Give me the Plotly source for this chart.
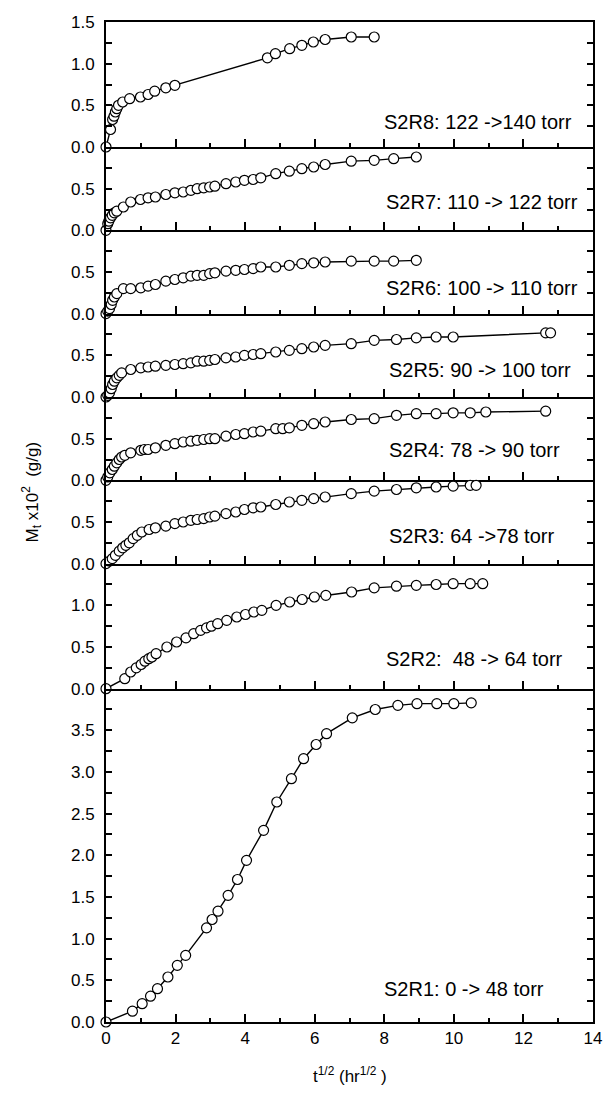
import plotly.graph_objects as go
from plotly.subplots import make_subplots

# Uptake curves, one panel per pressure step (top panel = last step)
labels = [
    "S2R8: 122 ->140 torr",
    "S2R7: 110 -> 122 torr",
    "S2R6: 100 -> 110 torr",
    "S2R5: 90 -> 100 torr",
    "S2R4: 78 -> 90 torr",
    "S2R3: 64 ->78 torr",
    "S2R2:\u00a0 48 -> 64 torr",
    "S2R1: 0 -> 48 torr",
]

# y-axis upper limits of each panel (M_t x10^2, g/g)
y_tops = [1.5, 1.0, 1.0, 1.0, 1.0, 1.0, 1.5, 4.0]

s2r8_x = [0, 0.13, 0.19, 0.23, 0.27, 0.31, 0.36, 0.48, 0.68, 0.99, 1.21, 1.40, 1.72, 1.98,
          4.64, 4.87, 5.28, 5.63, 5.96, 6.30, 7.05, 7.71]
s2r8_y = [0, 0.21, 0.33, 0.37, 0.42, 0.46, 0.50, 0.54, 0.58, 0.60, 0.63, 0.67, 0.71, 0.74,
          1.07, 1.12, 1.18, 1.22, 1.26, 1.29, 1.32, 1.32]

s2r7_x = [0, 0.05, 0.08, 0.13, 0.18, 0.24, 0.31, 0.50, 0.71, 0.99, 1.21, 1.42, 1.72, 1.98,
          2.22, 2.44, 2.62, 2.81, 2.98, 3.13, 3.45, 3.73, 3.98, 4.23, 4.45, 4.88, 5.27, 5.63,
          5.97, 6.30, 7.05, 7.71, 8.27, 8.92]
s2r7_y = [0, 0.08, 0.11, 0.15, 0.18, 0.21, 0.23, 0.28, 0.34, 0.37, 0.39, 0.40, 0.43, 0.45,
          0.46, 0.48, 0.50, 0.51, 0.52, 0.53, 0.56, 0.58, 0.60, 0.61, 0.63, 0.68, 0.71, 0.74,
          0.76, 0.79, 0.83, 0.84, 0.86, 0.88]

s2r6_x = [0, 0.05, 0.10, 0.15, 0.19, 0.24, 0.31, 0.50, 0.71, 1.00, 1.21, 1.42, 1.72, 1.98,
          2.22, 2.44, 2.62, 2.81, 2.98, 3.13, 3.45, 3.73, 3.98, 4.23, 4.45, 4.88, 5.27, 5.63,
          5.97, 6.30, 7.05, 7.71, 8.27, 8.92]
s2r6_y = [0, 0.03, 0.06, 0.11, 0.16, 0.20, 0.24, 0.30, 0.30, 0.31, 0.33, 0.35, 0.39, 0.41,
          0.43, 0.45, 0.46, 0.46, 0.48, 0.49, 0.51, 0.52, 0.53, 0.54, 0.56, 0.56, 0.58, 0.60,
          0.61, 0.62, 0.63, 0.63, 0.63, 0.64]

s2r5_x = [0, 0.05, 0.10, 0.15, 0.19, 0.24, 0.31, 0.38, 0.45, 0.71, 1.00, 1.21, 1.42, 1.72,
          1.98, 2.22, 2.44, 2.62, 2.81, 2.98, 3.13, 3.45, 3.73, 3.98, 4.23, 4.45, 4.88, 5.27,
          5.63, 5.97, 6.30, 7.05, 7.71, 8.35, 8.92, 9.49, 9.98, 12.64, 12.78]
s2r5_y = [0, 0.02, 0.05, 0.10, 0.15, 0.19, 0.23, 0.26, 0.29, 0.33, 0.35, 0.36, 0.37, 0.38,
          0.39, 0.40, 0.41, 0.43, 0.43, 0.44, 0.45, 0.47, 0.48, 0.50, 0.51, 0.52, 0.54, 0.56,
          0.58, 0.60, 0.62, 0.64, 0.68, 0.69, 0.71, 0.72, 0.72, 0.77, 0.77]

s2r4_x = [0, 0.05, 0.11, 0.18, 0.24, 0.31, 0.38, 0.45, 0.54, 0.71, 1.00, 1.10, 1.21, 1.42,
          1.72, 1.98, 2.22, 2.44, 2.62, 2.81, 2.98, 3.13, 3.45, 3.73, 3.98, 4.23, 4.45, 4.88,
          5.08, 5.27, 5.63, 5.97, 6.30, 7.05, 7.71, 8.35, 8.92, 9.49, 9.98, 10.47, 10.92, 12.64]
s2r4_y = [0, 0.04, 0.09, 0.13, 0.17, 0.21, 0.25, 0.28, 0.30, 0.33, 0.36, 0.37, 0.37, 0.39,
          0.42, 0.44, 0.46, 0.47, 0.48, 0.49, 0.50, 0.50, 0.53, 0.55, 0.56, 0.58, 0.59, 0.62,
          0.62, 0.63, 0.66, 0.68, 0.70, 0.73, 0.74, 0.78, 0.80, 0.80, 0.81, 0.81, 0.82, 0.83]

s2r3_x = [0, 0.10, 0.18, 0.27, 0.38, 0.48, 0.57, 0.67, 0.78, 0.90, 1.03, 1.24, 1.42, 1.72,
          1.98, 2.22, 2.44, 2.62, 2.81, 2.98, 3.13, 3.45, 3.73, 3.98, 4.23, 4.45, 4.88, 5.27,
          5.63, 5.97, 6.30, 7.05, 7.71, 8.35, 8.92, 9.49, 9.98, 10.47, 10.64]
s2r3_y = [0, 0.03, 0.06, 0.10, 0.15, 0.19, 0.22, 0.25, 0.30, 0.34, 0.38, 0.41, 0.43, 0.45,
          0.48, 0.50, 0.52, 0.53, 0.54, 0.56, 0.57, 0.60, 0.62, 0.65, 0.67, 0.68, 0.71, 0.74,
          0.76, 0.78, 0.80, 0.84, 0.87, 0.89, 0.91, 0.92, 0.93, 0.94, 0.94]

s2r2_x = [0, 0.54, 0.71, 0.87, 1.01, 1.12, 1.23, 1.32, 1.44, 1.75, 2.03, 2.30, 2.52, 2.72,
          2.89, 3.03, 3.21, 3.47, 3.76, 4.01, 4.25, 4.48, 4.89, 5.28, 5.64, 5.99, 6.32, 7.06,
          7.71, 8.35, 8.92, 9.49, 9.98, 10.47, 10.83]
s2r2_y = [0, 0.12, 0.20, 0.25, 0.29, 0.33, 0.36, 0.38, 0.42, 0.50, 0.56, 0.61, 0.66, 0.70,
          0.73, 0.75, 0.78, 0.82, 0.86, 0.89, 0.92, 0.94, 1.00, 1.04, 1.07, 1.10, 1.12, 1.16,
          1.21, 1.23, 1.24, 1.25, 1.26, 1.26, 1.26]

s2r1_x = [0, 0.76, 1.04, 1.28, 1.48, 1.78, 2.05, 2.29, 2.89, 3.05, 3.22, 3.51, 3.78, 4.04,
          4.53, 4.91, 5.33, 5.68, 6.04, 6.34, 7.08, 7.74, 8.39, 8.94, 9.51, 10.00, 10.50]
s2r1_y = [0, 0.13, 0.22, 0.31, 0.40, 0.54, 0.68, 0.80, 1.13, 1.23, 1.33, 1.52, 1.71, 1.94,
          2.30, 2.64, 2.92, 3.16, 3.33, 3.46, 3.65, 3.75, 3.80, 3.82, 3.82, 3.82, 3.83]

series = [
    (s2r8_x, s2r8_y), (s2r7_x, s2r7_y), (s2r6_x, s2r6_y), (s2r5_x, s2r5_y),
    (s2r4_x, s2r4_y), (s2r3_x, s2r3_y), (s2r2_x, s2r2_y), (s2r1_x, s2r1_y),
]

# label anchor (left x in data units, y in panel data units)
label_pos = [(7.93, 0.295), (7.99, 0.336), (7.99, 0.31), (8.09, 0.32),
             (8.09, 0.36), (8.09, 0.33), (7.99, 0.35), (7.93, 0.40)]

FONT = "Arial, 'Liberation Sans', sans-serif"
n = len(series)

fig = make_subplots(rows=n, cols=1, shared_xaxes=True, vertical_spacing=0,
                    row_heights=y_tops)

for i, (xs, ys) in enumerate(series):
    fig.add_trace(go.Scatter(
        x=xs, y=ys, mode="lines+markers",
        line=dict(color="black", width=1.4),
        marker=dict(symbol="circle", size=10, color="white",
                    line=dict(color="black", width=1.2)),
        cliponaxis=False, showlegend=False,
    ), row=i + 1, col=1)

    top = y_tops[i]
    vals, texts = [], []
    k = 0
    while k * 0.25 <= top + 1e-9:
        v = k * 0.25
        vals.append(v)
        show = (k % 2 == 0) and (v < top - 1e-9 or i == 0)
        texts.append(f"{v:.1f}" if show else "")
        k += 1

    fig.update_yaxes(
        range=[0, top], tickvals=vals, ticktext=texts,
        ticks="inside", ticklen=6, tickwidth=1.5, tickcolor="black",
        showline=True, linewidth=2, linecolor="black", mirror="allticks",
        showgrid=False, zeroline=False, ticklabelstandoff=6,
        tickfont=dict(family=FONT, size=17, color="black"),
        row=i + 1, col=1,
    )

    # only the top panel draws its own upper border; lower panels share
    # the bottom line of the panel above
    fig.update_xaxes(
        range=[0, 14], tick0=0, dtick=2,
        ticks="inside", ticklen=8, tickwidth=1.5, tickcolor="black",
        minor=dict(dtick=1, ticks="inside", ticklen=4, tickwidth=1.5, tickcolor="black"),
        showline=True, linewidth=2, linecolor="black", mirror=(i == 0),
        showgrid=False, zeroline=False,
        showticklabels=(i == n - 1),
        tickfont=dict(family=FONT, size=17, color="black"),
        row=i + 1, col=1,
    )

    lx, ly = label_pos[i]
    yref = "y" if i == 0 else f"y{i + 1}"
    fig.add_annotation(x=lx, y=ly, xref="x", yref=yref, text=labels[i],
                       showarrow=False, xanchor="left", yanchor="middle",
                       font=dict(family=FONT, size=20, color="black"))

fig.add_annotation(
    text="M<sub>t</sub> x10<sup>2</sup>\u00a0 (g/g)", textangle=-90,
    xref="paper", yref="paper", x=-0.153, y=0.53,
    xanchor="center", yanchor="middle", showarrow=False,
    font=dict(family=FONT, size=17, color="black"),
)
fig.add_annotation(
    text="t<sup>1/2</sup> (hr<sup>1/2</sup> )",
    xref="paper", yref="paper", x=0.5, y=-0.053,
    xanchor="center", yanchor="middle", showarrow=False,
    font=dict(family=FONT, size=17, color="black"),
)

# transparent panel backgrounds so no panel hides the border of its neighbour
fig.update_layout(
    width=614, height=1107,
    margin=dict(l=106, r=12, t=22, b=85),
    paper_bgcolor="white", plot_bgcolor="rgba(0,0,0,0)",
    font=dict(family=FONT, color="black"),
)

fig.write_html("out.html")
